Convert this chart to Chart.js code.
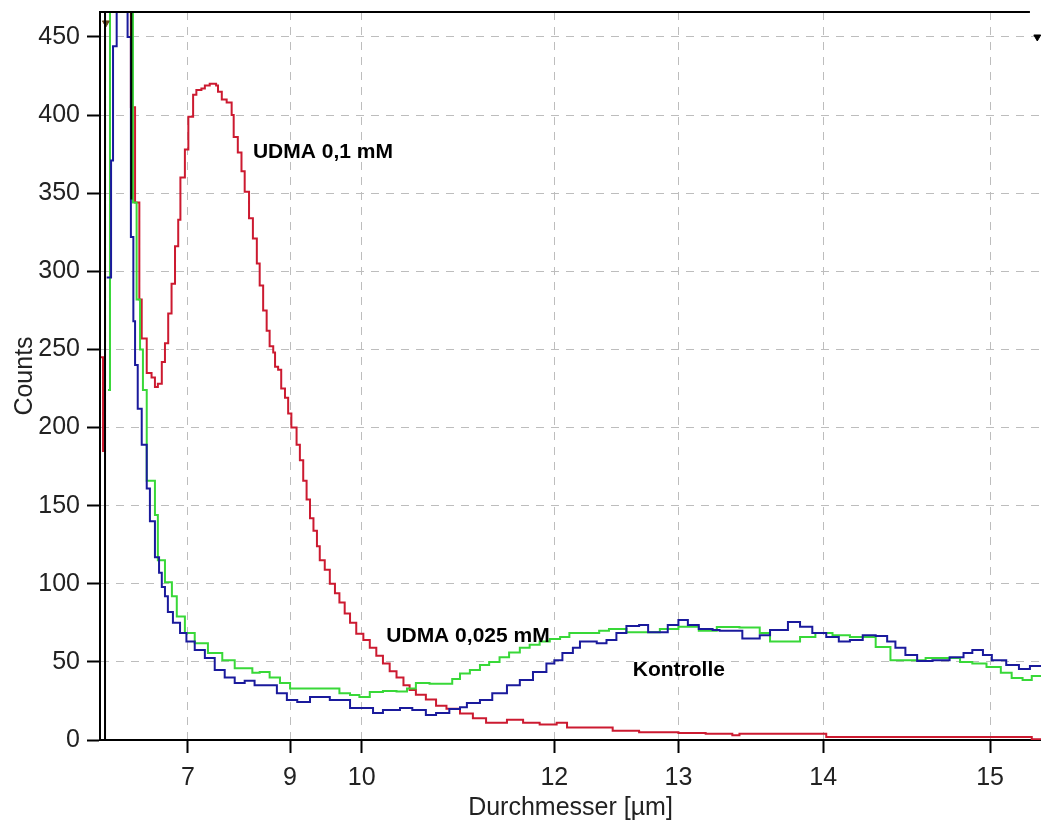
<!DOCTYPE html>
<html>
<head>
<meta charset="utf-8">
<title>Durchmesser-Verteilung</title>
<script src="https://cdn.jsdelivr.net/npm/chart.js"></script>
<style>
    body { margin: 0; background: #fff; }
    #wrap { width: 1041px; height: 825px; }
</style>
</head>
<body>
<div id="wrap"><canvas id="myChart"></canvas></div>
<script>
    // Durchmesser [µm] und Counts (Achse ist linear im Volumen d^3)
    var xMinD = 2.19, xMaxD = 15.28;
    var xTickD = [7, 9, 10, 12, 13, 14, 15];
    var yMax = 466;

    var redD = [2.43, 2.80, 3.09, 5.03, 5.23, 5.42, 5.52, 5.72, 5.90, 6.02, 6.12, 6.25, 6.35, 6.45, 6.55, 6.65, 6.74, 6.80, 6.92, 7.01,
        7.13, 7.21, 7.33, 7.41, 7.52, 7.66, 7.70, 7.78, 7.88, 7.98, 8.02, 8.10, 8.17, 8.23, 8.31, 8.38, 8.45, 8.50, 8.56, 8.62,
        8.67, 8.73, 8.76, 8.81, 8.86, 8.92, 8.97, 9.02, 9.10, 9.15, 9.20, 9.25, 9.30, 9.35, 9.40, 9.44, 9.51, 9.58, 9.65, 9.71,
        9.78, 9.85, 9.93, 10.02, 10.10, 10.18, 10.26, 10.34, 10.42, 10.50, 10.57, 10.64, 10.75, 10.86, 10.97, 11.11, 11.24, 11.37, 11.57, 11.72,
        11.87, 12.02, 12.11, 12.22, 12.44, 12.49, 12.70, 13.00, 13.20, 13.39, 13.44, 14.02, 15.23, 15.28];
    var redCounts = [245, 185, 600, 405, 344, 282, 257, 235, 232, 226, 228, 242, 254, 273, 292, 316, 333, 360, 378, 399,
        413, 416, 417, 419, 420, 419, 415, 410, 408, 400, 386, 376, 364, 351, 334, 321, 305, 291, 275, 262,
        252, 248, 239, 237, 225, 219, 209, 200, 189, 179, 166, 154, 142, 134, 124, 115, 109, 100, 94, 88,
        81, 75, 68, 64, 59, 54, 49, 44, 40, 35, 32, 29, 26, 22, 20, 17, 14, 11, 13, 11,
        10, 11, 8, 8, 8, 6, 5, 4.5, 4, 3, 4, 2, 0.5, 0.5];

    var greenD = [3.44, 3.64, 5.13, 5.30, 5.45, 5.57, 5.72, 6.02, 6.12, 6.35, 6.56, 6.70, 6.92, 7.17, 7.48, 7.79, 8.04, 8.37, 8.50, 8.67,
        8.84, 9.00, 9.71, 9.85, 9.97, 10.10, 10.26, 10.42, 10.54, 10.64, 10.79, 10.93, 11.03, 11.11, 11.21, 11.31, 11.40, 11.50, 11.59, 11.69,
        11.78, 11.87, 11.96, 12.05, 12.13, 12.30, 12.38, 12.46, 12.60, 12.70, 12.86, 13.00, 13.15, 13.28, 13.44, 13.58, 13.65, 13.73, 13.85, 13.95,
        14.06, 14.17, 14.27, 14.33, 14.42, 14.51, 14.63, 14.75, 14.83, 14.90, 14.98, 15.06, 15.12, 15.18, 15.23, 15.28];
    var greenCounts = [224, 600, 344, 282, 250, 224, 166, 144, 115, 101, 92, 79, 68.5, 62, 55.7, 51, 46, 43, 43.5, 40,
        36.5, 33, 30, 28.8, 27.5, 30.7, 31.4, 31, 33, 36.5, 36, 36, 39, 42.5, 44.8, 48, 50, 53, 56, 59,
        61, 63, 64.6, 66, 68.5, 68.5, 70, 71, 69, 69, 71, 72.5, 70, 72.3, 72, 68.5, 63, 63, 66, 68.5,
        67, 66, 66, 59.5, 51, 51, 52.5, 52.5, 50, 49, 46.8, 43, 39.7, 38.4, 41, 41];

    var blueD = [3.30, 3.74, 3.91, 4.19, 4.86, 5.03, 5.15, 5.23, 5.35, 5.52, 5.72, 5.84, 6.02, 6.16, 6.25, 6.35, 6.44, 6.59, 6.79, 6.96,
        7.17, 7.41, 7.63, 7.84, 8.04, 8.23, 8.41, 8.62, 8.79, 8.95, 9.11, 9.30, 9.58, 9.85, 10.14, 10.26, 10.46, 10.60, 10.75, 10.86,
        11.00, 11.11, 11.18, 11.31, 11.43, 11.57, 11.69, 11.81, 11.93, 12.00, 12.07, 12.16, 12.22, 12.36, 12.44, 12.52, 12.60, 12.70, 12.77, 12.86,
        12.92, 13.00, 13.07, 13.15, 13.25, 13.30, 13.46, 13.58, 13.65, 13.77, 13.85, 13.93, 14.02, 14.10, 14.17, 14.25, 14.33, 14.40, 14.45, 14.51,
        14.58, 14.67, 14.77, 14.85, 14.90, 14.96, 15.01, 15.09, 15.16, 15.22, 15.28];
    var blueCounts = [296, 371, 444, 600, 450, 322, 268, 240, 212, 189, 161, 140, 117, 107, 98, 92, 82, 75, 68.5, 63,
        57.6, 52.5, 44.8, 40, 36.5, 38, 35, 35, 30, 25.6, 24.3, 27.5, 25.6, 20.5, 17.3, 19.2, 20.5, 19.2, 16, 17.3,
        19.8, 21, 23.7, 25.6, 30, 35, 38.4, 43.5, 49, 51, 55.7, 59, 63, 62, 64, 68.5, 73, 73.6, 69, 69,
        73.6, 76.8, 73.6, 71, 70.4, 70, 65, 67, 70.4, 75.5, 72.5, 68.5, 66, 63, 64, 67, 66.6, 63, 59, 54.4,
        50.6, 51, 53, 55.7, 57.6, 54.4, 51, 48, 45.5, 47.4, 47.4];

    // Cursor (schwarz) und Cursor-Markierungen
    var cursorD = [3.09, 3.09, 5.05, 5.05];
    var cursorCounts = [0, 600, 600, 346];
    var markD = [3.2, 15.26];
    var markCounts = [459, 450];

    // Beschriftungen an den Kurven
    var labelText = ["UDMA 0,1 mM", "UDMA 0,025 mM", "Kontrolle"];
    var labelD = [8.38, 10.30, 12.65];
    var labelCounts = [376, 66.6, 44.8];

    function toPoints(ds, cs) {
        return ds.map((d, i) => ({ x: d * d * d, y: cs[i] }));
    }

    var fontFamily = '"Liberation Sans", Arial, sans-serif';

    var extras = {
        id: "extras",
        afterDatasetsDraw: function (chart) {
            var ctx = chart.ctx, a = chart.chartArea;
            var xs = chart.scales.x, ys = chart.scales.y;
            ctx.save();
            ctx.strokeStyle = "#000";
            ctx.lineWidth = 2;
            ctx.beginPath();
            ctx.moveTo(a.left, a.top);
            ctx.lineTo(xs.getPixelForValue(15.22 * 15.22 * 15.22), a.top);
            ctx.stroke();
            ctx.font = "bold 21px " + fontFamily;
            ctx.fillStyle = "#000";
            ctx.textBaseline = "middle";
            ctx.textAlign = "left";
            labelText.forEach(function (t, i) {
                var d = labelD[i];
                ctx.fillText(t, xs.getPixelForValue(d * d * d), ys.getPixelForValue(labelCounts[i]));
            });
            ctx.restore();
        }
    };

    var gridOpts = { color: "#bdbdbd", lineWidth: 1, tickColor: "#000", tickLength: 13, tickWidth: 2, tickBorderDash: [] };
    var borderOpts = { color: "#000", width: 2, dash: [8, 7] };
    var tickFont = { family: fontFamily, size: 25 };

    var ctx = document.getElementById("myChart").getContext("2d");
    new Chart(ctx, {
        type: "line",
        data: {
            datasets: [
                { data: toPoints(cursorD, cursorCounts), borderColor: "#000", borderWidth: 2, pointRadius: 0 },
                {
                    data: toPoints(markD, markCounts), showLine: false, pointStyle: "triangle", rotation: 180,
                    pointRadius: 4, pointBackgroundColor: ["#6a4a20", "#000"], pointBorderColor: ["#6a4a20", "#000"]
                },
                { label: "Kontrolle", data: toPoints(blueD, blueCounts), borderColor: "#1a1a9c", borderWidth: 2, pointRadius: 0, stepped: true },
                { label: "UDMA 0,025 mM", data: toPoints(greenD, greenCounts), borderColor: "#38d838", borderWidth: 2, pointRadius: 0, stepped: true },
                { label: "UDMA 0,1 mM", data: toPoints(redD, redCounts), borderColor: "#cc1a30", borderWidth: 2, pointRadius: 0, stepped: true }
            ]
        },
        options: {
            responsive: true,
            maintainAspectRatio: false,
            animation: false,
            devicePixelRatio: 1,
            layout: { autoPadding: false, padding: { top: 12, right: 0, bottom: 0, left: 0 } },
            plugins: {
                legend: { display: false },
                tooltip: { enabled: false }
            },
            scales: {
                x: {
                    type: "linear",
                    min: xMinD * xMinD * xMinD,
                    max: xMaxD * xMaxD * xMaxD,
                    afterBuildTicks: function (s) {
                        s.ticks = xTickD.map(d => ({ value: d * d * d }));
                    },
                    afterFit: function (s) {
                        s.height = 85;
                        s.paddingLeft = 0;
                        s.paddingRight = 0;
                    },
                    ticks: {
                        callback: v => String(Math.round(Math.cbrt(v))),
                        autoSkip: false, maxRotation: 0, padding: 10,
                        color: "#222", font: tickFont
                    },
                    grid: gridOpts,
                    border: borderOpts,
                    title: {
                        display: true, text: "Durchmesser [µm]", color: "#222",
                        font: tickFont, padding: { top: 0, bottom: 2 }
                    }
                },
                y: {
                    min: 0,
                    max: yMax,
                    afterFit: function (s) {
                        s.width = 100;
                        s.paddingTop = 0;
                        s.paddingBottom = 0;
                    },
                    ticks: { stepSize: 50, includeBounds: false, padding: 7, color: "#222", font: tickFont },
                    grid: gridOpts,
                    border: borderOpts,
                    title: {
                        display: true, text: "Counts", color: "#222",
                        font: tickFont, padding: { top: 10, bottom: 0 }
                    }
                }
            }
        },
        plugins: [extras]
    });
</script>
</body>
</html>
